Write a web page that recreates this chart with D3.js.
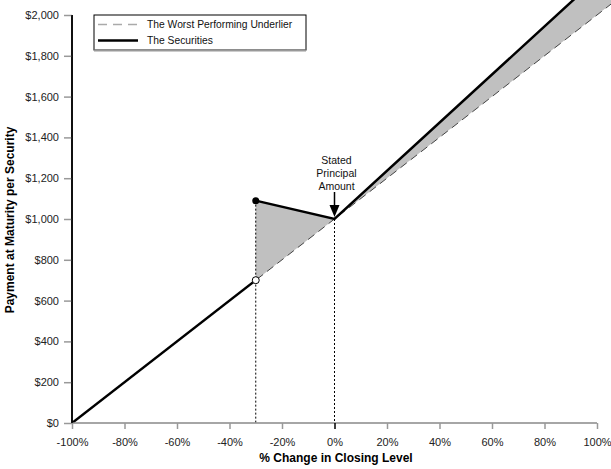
<!DOCTYPE html>
<html><head><meta charset="utf-8">
<script src="https://cdn.jsdelivr.net/npm/d3@7"></script>
<style>body{margin:0;background:#fff}svg{display:block;font-family:"Liberation Sans",Arial,sans-serif}</style>
</head><body>
<svg id="c" width="611" height="469"></svg>
<script>
const xTicks = [-100,-80,-60,-40,-20,0,20,40,60,80,100];
const yTicks = [0,200,400,600,800,1000,1200,1400,1600,1800,2000];
const underlyingPct = [-100, 110];
const underlyingVal = [0, 2100];
const secLowPct = [-100, -30];
const secLowVal = [0, 700];
const secHighPct = [-30, 0, 110];
const secHighVal = [1090, 1000, 2298];
const barrierPct = -30;
const legendLabels = ["The Worst Performing Underlier", "The Securities"];
const annotation = ["Stated", "Principal", "Amount"];

const svg = d3.select("#c");
const x = d3.scaleLinear().domain([-100,100]).range([72,597]);
const y = d3.scaleLinear().domain([0,2000]).range([423,15]);
const under = v => v*10+1000;

svg.append("defs").append("clipPath").attr("id","clip")
  .append("rect").attr("x",x(-100)).attr("y",0).attr("width",611-x(-100)).attr("height",y(0));

const g = svg.append("g").attr("clip-path","url(#clip)");

const hiPts = secHighPct.map((p,i)=>[p,secHighVal[i]]);
const poly = hiPts.concat(hiPts.slice().reverse().map(d=>[d[0],under(d[0])]));
g.append("path").attr("d", d3.line().x(d=>x(d[0])).y(d=>y(d[1]))(poly)+"Z")
  .attr("fill","#c0c0c0").attr("stroke","none");

[[barrierPct, secHighVal[0]],[0, secHighVal[1]]].forEach(d=>{
  svg.append("line").attr("x1",x(d[0])).attr("x2",x(d[0])).attr("y1",y(d[1])).attr("y2",y(0))
    .attr("stroke","#000").attr("stroke-width",1).attr("stroke-dasharray","2,2");
});

const line = d3.line().x(d=>x(d[0])).y(d=>y(d[1]));
g.append("path").attr("d", line(underlyingPct.map((p,i)=>[p,underlyingVal[i]])))
  .attr("fill","none").attr("stroke","#444").attr("stroke-width",1).attr("stroke-dasharray","8,5");
g.append("path").attr("d", line(secLowPct.map((p,i)=>[p,secLowVal[i]])))
  .attr("fill","none").attr("stroke","#000").attr("stroke-width",2.5);
g.append("path").attr("d", line(hiPts))
  .attr("fill","none").attr("stroke","#000").attr("stroke-width",2.5);

const yAxis = svg.append("g").attr("transform",`translate(${x(-100)},0)`)
  .call(d3.axisLeft(y).tickValues(yTicks).tickSize(8).tickPadding(5).tickFormat(d=>"$"+d3.format(",")(d)));
yAxis.select(".domain").attr("stroke","#000").attr("stroke-width",1.5).attr("d",`M0,${y(0)}V${y(2000)}`);
yAxis.selectAll(".tick line").attr("stroke","#999").attr("stroke-width",1.5);
yAxis.selectAll(".tick text").attr("font-size",11).attr("fill","#222").attr("font-family","Liberation Sans, Arial");

const xAxis = svg.append("g").attr("transform",`translate(0,${y(0)})`)
  .call(d3.axisBottom(x).tickValues(xTicks).tickSize(6).tickPadding(9).tickFormat(d=>d+"%"));
xAxis.select(".domain").attr("stroke","#888").attr("stroke-width",1.5).attr("d",`M${x(-100)},0H${x(100)}`);
xAxis.selectAll(".tick line").attr("stroke",d=>d===0?"#000":"#999").attr("stroke-width",1.5);
xAxis.selectAll(".tick text").attr("font-size",11).attr("fill","#222").attr("font-family","Liberation Sans, Arial");
svg.append("line").attr("x1",x(-100)).attr("x2",x(-100)).attr("y1",y(0)).attr("y2",y(2000)).attr("stroke","#000").attr("stroke-width",1.5);

svg.append("circle").attr("cx",x(barrierPct)).attr("cy",y(secHighVal[0])).attr("r",3.5).attr("fill","#000");
svg.append("circle").attr("cx",x(barrierPct)).attr("cy",y(secLowVal[1])).attr("r",3.5).attr("fill","#fff").attr("stroke","#000").attr("stroke-width",1);

const ax = x(0);
annotation.forEach((t,i)=>{
  svg.append("text").attr("x",ax+2).attr("y",164+i*13).attr("text-anchor","middle")
    .attr("font-size",10.5).attr("fill","#111").text(t);
});
svg.append("line").attr("x1",ax).attr("x2",ax).attr("y1",192).attr("y2",206).attr("stroke","#000").attr("stroke-width",1.5);
svg.append("path").attr("d",`M${ax-5},205L${ax+5},205L${ax},${y(1000)-2}Z`).attr("fill","#000");

svg.append("text").attr("x",336).attr("y",462).attr("text-anchor","middle").attr("font-size",12).attr("font-weight","bold").text("% Change in Closing Level");
svg.append("text").attr("transform","translate(14,220) rotate(-90)").attr("text-anchor","middle").attr("font-size",12).attr("font-weight","bold").text("Payment at Maturity per Security");

const lg = svg.append("g");
lg.append("rect").attr("x",94).attr("y",15).attr("width",212).attr("height",35).attr("fill","#fff").attr("stroke","#000").attr("stroke-width",1);
lg.append("line").attr("x1",94).attr("x2",306).attr("y1",50.5).attr("y2",50.5).attr("stroke","#999").attr("stroke-width",2);
lg.append("line").attr("x1",98).attr("x2",138).attr("y1",24.5).attr("y2",24.5).attr("stroke","#aaa").attr("stroke-width",1.5).attr("stroke-dasharray","9,6");
lg.append("line").attr("x1",98).attr("x2",138).attr("y1",40.5).attr("y2",40.5).attr("stroke","#000").attr("stroke-width",2.5);
legendLabels.forEach((t,i)=>{
  lg.append("text").attr("x",147).attr("y",28+i*16).attr("font-size",10.3).attr("fill","#111").text(t);
});
</script>
</body></html>
